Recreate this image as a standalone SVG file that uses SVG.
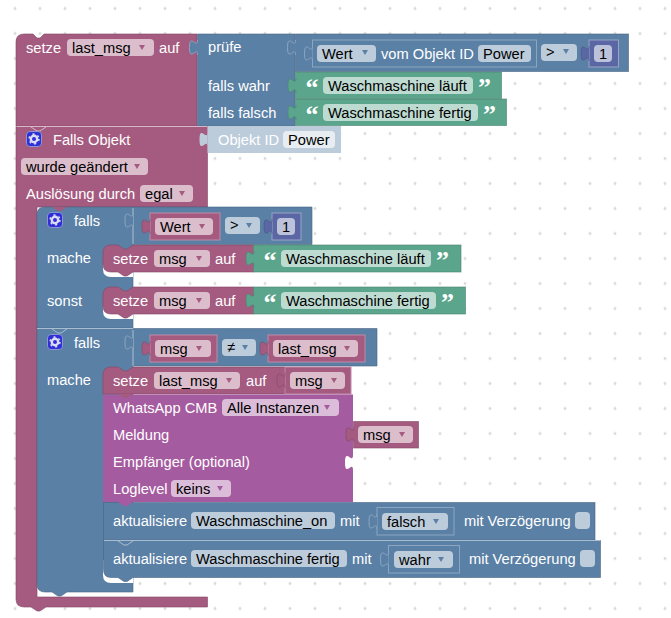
<svg xmlns="http://www.w3.org/2000/svg" width="671" height="618" viewBox="0 0 671 618">
<style>
text{font-family:"Liberation Sans",Arial,sans-serif;font-size:14.67px;fill:#fff}
.d{fill:#000}
.r{fill:#a55b80;stroke:#844866;stroke-opacity:.6;stroke-width:1}
.b{fill:#5b80a5;stroke:#496684;stroke-opacity:.6;stroke-width:1}
.g{fill:#5ba58c;stroke:#498470;stroke-opacity:.6;stroke-width:1}
.n{fill:#5b67a5;stroke:#495284;stroke-opacity:.6;stroke-width:1}
.rin{stroke:#c08aa6;stroke-width:1;fill:#a55b80}
.bin{stroke:#8aa6c0;stroke-width:1;fill:#5b80a5}
.nin{stroke:#9aa3c8;stroke-width:1;fill:#5b67a5}
.fr{fill:#dbbdcc}.fb{fill:#bdccdb}.fg{fill:#bddbd1}.fp{fill:#dbbdd9}.fn{fill:#bdc2db}.fw{fill:#e8edf2}
.ar{fill:#a55b80}.ab{fill:#5b80a5}.ap{fill:#a55ba0}
.q{font-family:"Liberation Serif",serif;font-size:26px;font-weight:bold}
.icon{fill:#2f2fd8;stroke:#8a96d0;stroke-width:1}
.gear{fill:none;stroke:#dcdcf5;stroke-width:2.4}
.gt{fill:none;stroke:#dcdcf5;stroke-width:1.6;stroke-dasharray:2 3.240}
.ruleb{stroke:#a9bdd1;stroke-width:1;fill:none}
.rule{stroke:#d9b8c8;stroke-width:1;fill:none}
</style>
<defs>
<pattern id="grid" width="25" height="25" patternUnits="userSpaceOnUse" x="2" y="20.5">
<path d="M13 11.5v3M11.5 13h3" stroke="#ccc" stroke-width="1"/>
</pattern>
<path id="tab" d="M0 0c0 10-8-8-8 7.5s8-2.5 8 7.500"/>
<path id="arrow" d="M-3-2h6L0 3z"/>
<g id="cog">
<rect class="icon" x="0.5" y="0.5" width="15" height="15" rx="3.5"/>
<circle class="gear" cx="8" cy="8" r="3.200"/>
<circle class="gt" cx="8" cy="8" r="4.900"/>
</g>
</defs>

<rect width="671" height="618" fill="#fff"/>
<rect width="671" height="618" fill="url(#grid)"/>

<g id="connectors">
<!-- value sockets, drawn under the blocks that plug into them -->
<use href="#tab" x="197" y="40" class="rin"/>
</g>

<g id="set-last-msg">
<path class="r" d="M16 126V42q0-8 8-8h9l4 4h3l4-4H197v92z"/>
<text x="26" y="53">setze</text>
<rect class="fr" x="67" y="39" width="87" height="17" rx="4"/>
<text class="d" x="72" y="53">last_msg</text>
<use href="#arrow" x="142" y="47" class="ar"/>
<text x="159" y="53">auf</text>
</g>

<g id="ternary">
<path class="b" d="M197.500 34H295V126H197.500z"/>
<use href="#tab" x="197.500" y="40" class="bin"/>
<text x="208" y="52">prüfe</text>
<text x="208" y="91">falls wahr</text>
<text x="208" y="118">falls falsch</text>
</g>

<g id="compare-state">
<rect class="b" x="295.500" y="34" width="333" height="37.500"/>
<use href="#tab" x="295.500" y="40" class="bin"/>
<rect class="bin" x="312.500" y="40" width="224" height="27"/>
<use href="#tab" x="312.500" y="46" class="bin"/>
<rect class="fb" x="317" y="45" width="59" height="17" rx="4"/>
<text class="d" x="322" y="59">Wert</text>
<use href="#arrow" x="365" y="52" class="ab"/>
<text x="381" y="59">vom Objekt ID</text>
<rect class="fb" x="478" y="45" width="53" height="17" rx="4"/>
<text class="d" x="483" y="59">Power</text>
<rect class="fb" x="541" y="44" width="36" height="17" rx="4"/>
<text class="d" x="546" y="57">&gt;</text>
<use href="#arrow" x="566" y="51" class="ab"/>
<rect class="nin" x="589" y="40" width="29.500" height="27"/>
<use href="#tab" x="589" y="46" class="n"/>
<rect class="fn" x="594" y="45" width="18" height="17" rx="4"/>
<text class="d" x="599" y="59">1</text>
</g>

<g id="text-laeuft">
<rect class="g" x="295.500" y="72" width="206" height="26.500"/>
<use href="#tab" x="296" y="78" class="g"/>
<text class="q" x="305.500" y="96">“</text>
<rect class="fg" x="323" y="77" width="150" height="17" rx="4"/>
<text class="d" x="328" y="91">Waschmaschine läuft</text>
<text class="q" x="478" y="96">”</text>
</g>

<g id="text-fertig">
<rect class="g" x="295.500" y="99" width="211" height="26.500"/>
<use href="#tab" x="296" y="105" class="g"/>
<text class="q" x="305.500" y="123">“</text>
<rect class="fg" x="323" y="104" width="155" height="17" rx="4"/>
<text class="d" x="328" y="118">Waschmaschine fertig</text>
<text class="q" x="483" y="123">”</text>
</g>

<g id="on-change">
<path class="r" d="M16 126.500H207.500V207H37V597H207.500V607H46l-6 4h-3l-6-4H24q-8 0-8-8z"/>
<path class="rule" d="M16.500 126.500H207M31 127l6 4h3l6-4"/>
<use href="#cog" x="26" y="131"/>
<text x="53" y="145">Falls Objekt</text>
<rect class="fr" x="21" y="158" width="127" height="17" rx="4"/>
<text class="d" x="26" y="172">wurde geändert</text>
<use href="#arrow" x="137" y="166" class="ar"/>
<text x="26" y="199">Auslösung durch</text>
<rect class="fr" x="140" y="185" width="53" height="17" rx="4"/>
<text class="d" x="145" y="199">egal</text>
<use href="#arrow" x="182" y="193" class="ar"/>
</g>

<g id="object-id">
<rect x="207.500" y="126" width="133.500" height="27" fill="#bdccdb"/>
<use href="#tab" x="207.500" y="132" fill="#bdccdb"/>
<text x="218" y="145">Objekt ID</text>
<rect class="fw" x="283" y="131" width="52" height="17" rx="4"/>
<text class="d" x="288" y="145">Power</text>
</g>

<g id="if-changed">
<path class="b" d="M37 215q0-8 8-8H312V244.500H133V328H37z"/>
<path class="ruleb" d="M133 208V244"/>
<path fill="#a55b80" d="M52 207l6 4h3l6-4z"/>
<use href="#cog" x="47" y="212"/>
<text x="74" y="226">falls</text>
<text x="47" y="263">mache</text>
<text x="47" y="306">sonst</text>
<use href="#tab" x="133" y="213" class="bin"/>
<rect class="rin" x="150" y="213" width="70" height="27"/>
<use href="#tab" x="150" y="219" class="r"/>
<rect class="fr" x="155" y="218" width="58" height="17" rx="4"/>
<text class="d" x="160" y="232">Wert</text>
<use href="#arrow" x="202" y="226" class="ar"/>
<rect class="fb" x="225" y="217" width="35" height="17" rx="4"/>
<text class="d" x="230" y="230">&gt;</text>
<use href="#arrow" x="249" y="225" class="ab"/>
<rect class="nin" x="272" y="213" width="29" height="27"/>
<use href="#tab" x="272" y="219" class="n"/>
<rect class="fn" x="277" y="218" width="18" height="17" rx="4"/>
<text class="d" x="282" y="232">1</text>
</g>

<g id="set-msg-laeuft">
<path fill="#fff" d="M103 258v11q0 8 8 8h22v-19z"/>
<path class="r" d="M103 253q0-8 8-8h7l6 4h3l6-4H253.500V272H133l-6 4h-3l-6-4H111q-8 0-8-8z"/>
<text x="113" y="264">setze</text>
<rect class="fr" x="154" y="250" width="56" height="17" rx="4"/>
<text class="d" x="159" y="264">msg</text>
<use href="#arrow" x="199" y="258" class="ar"/>
<text x="215" y="264">auf</text>
<rect class="g" x="253.500" y="245" width="207.500" height="27"/>
<use href="#tab" x="254" y="251" class="g"/>
<text class="q" x="263.500" y="269">“</text>
<rect class="fg" x="281" y="250" width="150" height="17" rx="4"/>
<text class="d" x="286" y="264">Waschmaschine läuft</text>
<text class="q" x="436" y="269">”</text>
</g>

<g id="set-msg-fertig">
<path fill="#fff" d="M103 300v11q0 8 8 8h22v-19z"/>
<path class="r" d="M103 295q0-8 8-8h7l6 4h3l6-4H253.500V314H133l-6 4h-3l-6-4H111q-8 0-8-8z"/>
<text x="113" y="306">setze</text>
<rect class="fr" x="154" y="292" width="56" height="17" rx="4"/>
<text class="d" x="159" y="306">msg</text>
<use href="#arrow" x="199" y="300" class="ar"/>
<text x="215" y="306">auf</text>
<rect class="g" x="253.500" y="287" width="212" height="27"/>
<use href="#tab" x="254" y="293" class="g"/>
<text class="q" x="263.500" y="311">“</text>
<rect class="fg" x="281" y="292" width="155" height="17" rx="4"/>
<text class="d" x="286" y="306">Waschmaschine fertig</text>
<text class="q" x="441" y="311">”</text>
</g>

<g id="if-message">
<path class="b" d="M37 328.500H377V366H133V592H67l-6 4h-3l-6-4H45q-8 0-8-8z"/>
<path class="ruleb" d="M37 328.500H133M52 329l6 4h3l6-4M133 330V366"/>
<use href="#cog" x="47" y="334"/>
<text x="74" y="348">falls</text>
<text x="47" y="385">mache</text>
<use href="#tab" x="133" y="335" class="bin"/>
<rect class="rin" x="150" y="335" width="67" height="27"/>
<use href="#tab" x="150" y="341" class="r"/>
<rect class="fr" x="155" y="340" width="56" height="17" rx="4"/>
<text class="d" x="160" y="354">msg</text>
<use href="#arrow" x="199" y="348" class="ar"/>
<rect class="fb" x="222" y="339" width="34" height="17" rx="4"/>
<text class="d" x="227" y="352">≠</text>
<use href="#arrow" x="245" y="347" class="ab"/>
<rect class="rin" x="268" y="335" width="97" height="27"/>
<use href="#tab" x="268" y="341" class="r"/>
<rect class="fr" x="273" y="340" width="85" height="17" rx="4"/>
<text class="d" x="278" y="354">last_msg</text>
<use href="#arrow" x="347" y="348" class="ar"/>
</g>

<g id="set-last-msg-inner">
<path class="r" d="M103 375q0-8 8-8h7l6 4h3l6-4H285V394H103z"/>
<text x="113" y="386">setze</text>
<rect class="fr" x="154" y="372" width="86" height="17" rx="4"/>
<text class="d" x="159" y="386">last_msg</text>
<use href="#arrow" x="229" y="380" class="ar"/>
<text x="246" y="386">auf</text>
<rect class="rin" x="285" y="367" width="66" height="27"/>
<use href="#tab" x="285" y="373" class="r"/>
<rect class="fr" x="290" y="372" width="55" height="17" rx="4"/>
<text class="d" x="295" y="386">msg</text>
<use href="#arrow" x="334" y="380" class="ar"/>
</g>

<g id="whatsapp">
<path d="M103 394.500H353V455c0 10-8-8-8 7.500s8-2.500 8 7.500V502H103z" fill="#a55ba0"/>
<path fill="#a55b80" d="M118 394l6 4h3l6-4z"/>
<text x="113" y="413">WhatsApp CMB</text>
<rect class="fp" x="222" y="399" width="117" height="17" rx="4"/>
<text class="d" x="227" y="413">Alle Instanzen</text>
<use href="#arrow" x="327" y="407" class="ap"/>
<text x="113" y="440">Meldung</text>
<text x="113" y="467">Empfänger (optional)</text>
<text x="113" y="494">Loglevel</text>
<rect class="fp" x="171" y="480" width="60" height="17" rx="4"/>
<text class="d" x="176" y="494">keins</text>
<use href="#arrow" x="220" y="488" class="ap"/>
</g>

<g id="msg-value">
<rect class="r" x="353.500" y="421.500" width="65" height="26.500"/>
<use href="#tab" x="354" y="427" class="r"/>
<rect class="fr" x="358" y="426" width="55" height="17" rx="4"/>
<text class="d" x="363" y="440">msg</text>
<use href="#arrow" x="402" y="434" class="ar"/>
</g>

<g id="update-on">
<rect class="b" x="103.500" y="502.500" width="491.500" height="37.500"/>
<path fill="#a55ba0" d="M118 502l6 4h3l6-4z"/>
<text x="113" y="526">aktualisiere</text>
<rect class="fb" x="191" y="512" width="144" height="17" rx="4"/>
<text class="d" x="196" y="526">Waschmaschine_on</text>
<text x="340" y="526">mit</text>
<rect class="bin" x="377" y="507.500" width="77" height="27.500"/>
<use href="#tab" x="377" y="514" class="bin"/>
<rect class="fb" x="382" y="513" width="66" height="17" rx="4"/>
<text class="d" x="387" y="527">falsch</text>
<use href="#arrow" x="436" y="521" class="ab"/>
<text x="464" y="526">mit Verzögerung</text>
<rect class="fb" x="575" y="512" width="15" height="17" rx="4"/>
</g>

<g id="update-fertig">
<path fill="#fff" d="M103 560v15q0 8 8 8h22v-23z"/>
<path class="b" d="M103.500 540.500H600.500V577.500H133l-6 4h-3l-6-4H111q-7.500 0-7.500-8z"/>
<path class="ruleb" d="M104 540.500H600M118 541l6 4h3l6-4"/>
<text x="113" y="564">aktualisiere</text>
<rect class="fb" x="191" y="550" width="156" height="17" rx="4"/>
<text class="d" x="196" y="564">Waschmaschine fertig</text>
<text x="352" y="564">mit</text>
<rect class="bin" x="388.500" y="545.500" width="71" height="27.500"/>
<use href="#tab" x="388.500" y="552" class="bin"/>
<rect class="fb" x="394" y="551" width="59" height="17" rx="4"/>
<text class="d" x="399" y="565">wahr</text>
<use href="#arrow" x="441" y="559" class="ab"/>
<text x="469" y="564">mit Verzögerung</text>
<rect class="fb" x="580" y="550" width="15" height="17" rx="4"/>
</g>
</svg>
